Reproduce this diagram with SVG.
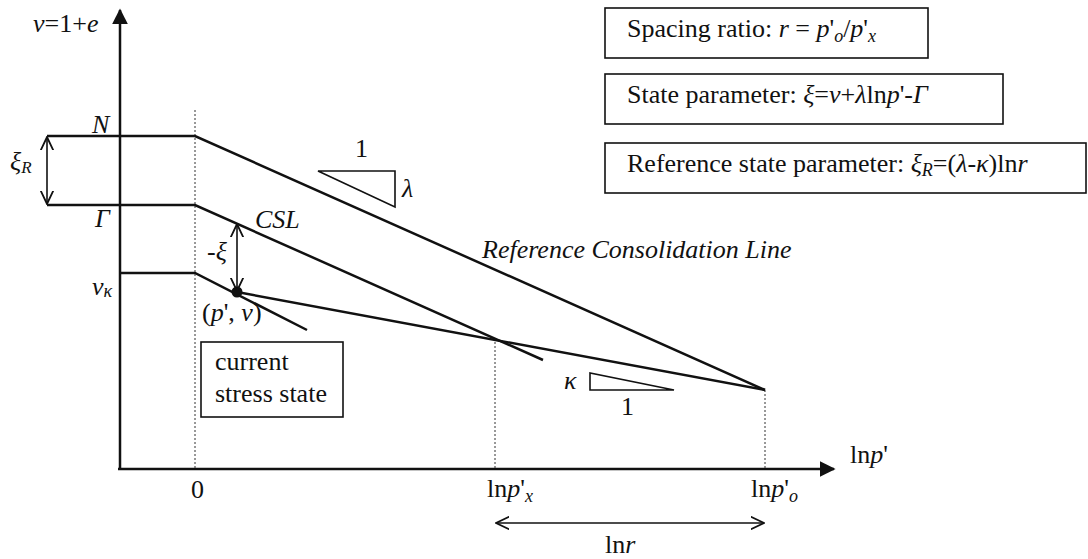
<svg xmlns="http://www.w3.org/2000/svg" width="1088" height="559" viewBox="0 0 1088 559" font-family="'Liberation Serif', Tinos, 'Times New Roman', 'DejaVu Serif', serif">
<defs>
<style>
text{font-family:'Liberation Serif',Tinos,'Times New Roman','DejaVu Serif',serif;font-size:26px;fill:#111}
.i{font-style:italic}
.s{font-size:18px}
.ln{stroke:#111;stroke-width:2.5;fill:none}
.thin{stroke:#111;stroke-width:1.6;fill:none}
.dot{stroke:#333;stroke-width:1;stroke-dasharray:2 2;fill:none}
.box{stroke:#111;stroke-width:1.6;fill:#fff}
</style>
<marker id="tri" viewBox="0 0 10 10" refX="9" refY="5" markerWidth="16" markerHeight="16" markerUnits="userSpaceOnUse" orient="auto"><path d="M0,0 L10,5 L0,10 Z" fill="#111"/></marker>
<marker id="open" viewBox="0 0 10 10" refX="9.5" refY="5" markerWidth="14" markerHeight="14" markerUnits="userSpaceOnUse" orient="auto-start-reverse"><path d="M0,0.5 L9.5,5 L0,9.5" fill="none" stroke="#111" stroke-width="1.3"/></marker>
</defs>
<rect width="1088" height="559" fill="#fff"/>
<g id="connectors">
<line class="ln" x1="120" y1="470" x2="120" y2="10" marker-end="url(#tri)"/>
<line class="ln" x1="118" y1="469" x2="834" y2="469" marker-end="url(#tri)"/>
<line class="dot" x1="195" y1="110" x2="195" y2="468"/>
<line class="dot" x1="495" y1="338" x2="495" y2="468"/>
<line class="dot" x1="765" y1="390" x2="765" y2="468"/>
<polyline class="ln" points="47,136 195,136 765,390"/>
<polyline class="ln" points="47,205 195,205 543,360"/>
<polyline class="ln" points="120,273 195,273 307,330"/>
<line class="ln" x1="237" y1="292" x2="765" y2="390"/>
<circle cx="237" cy="292" r="5.5" fill="#111"/>
<line class="thin" x1="47" y1="137" x2="47" y2="204" marker-start="url(#open)" marker-end="url(#open)"/>
<line class="thin" x1="237" y1="224" x2="237" y2="291" marker-start="url(#open)" marker-end="url(#open)"/>
<line class="thin" x1="496" y1="523" x2="764" y2="523" marker-start="url(#open)" marker-end="url(#open)"/>
<polygon class="thin" points="318,171 395,171 395,207"/>
<polygon class="thin" points="590,373 590,390 674,390"/>
</g>
<g id="labels">
<text x="33" y="32" font-size="28"><tspan class="i">ν</tspan>=1+<tspan class="i">e</tspan></text>
<text class="i" x="92" y="133" font-size="24">N</text>
<text class="i" x="95" y="227" font-size="24">Γ</text>
<text class="i" x="10" y="170" font-size="24">ξ<tspan font-size="17" dy="3">R</tspan></text>
<text class="i" x="92" y="295" font-size="24">ν<tspan font-size="18" dy="2">κ</tspan></text>
<text class="i" x="255" y="228" font-size="25">CSL</text>
<text x="207" y="260" font-size="22">-<tspan class="i">ξ</tspan></text>
<text x="202" y="321" font-size="20">(<tspan class="i">p</tspan>', <tspan class="i">ν</tspan>)</text>
<text x="355" y="157" font-size="20">1</text>
<text class="i" x="402" y="197" font-size="22">λ</text>
<text class="i" x="564" y="389" font-size="22">κ</text>
<text x="621" y="415" font-size="20">1</text>
<text class="i" x="482" y="258" font-size="27">Reference Consolidation Line</text>
<text x="191" y="498">0</text>
<text x="850" y="463">ln<tspan class="i">p</tspan>'</text>
<text x="487" y="497">ln<tspan class="i">p</tspan>'<tspan class="i s" dy="5">x</tspan></text>
<text x="751" y="497">ln<tspan class="i">p</tspan>'<tspan class="i s" dy="5">o</tspan></text>
<text x="605" y="553">ln<tspan class="i">r</tspan></text>
</g>
<g id="current-state">
<rect class="box" x="201" y="342" width="142" height="75"/>
<text x="215" y="370">current</text>
<text x="215" y="402">stress state</text>
</g>
<g id="box-spacing">
<rect class="box" x="605" y="8" width="323" height="50"/>
<text x="627" y="37">Spacing ratio: <tspan class="i">r</tspan> = <tspan class="i">p</tspan>'<tspan class="i s" dy="5">o</tspan><tspan dy="-5">/</tspan><tspan class="i">p</tspan>'<tspan class="i s" dy="5">x</tspan></text>
</g>
<g id="box-state">
<rect class="box" x="605" y="74" width="398" height="50"/>
<text x="627" y="103">State parameter: <tspan class="i">ξ</tspan>=<tspan class="i">ν</tspan>+<tspan class="i">λ</tspan>ln<tspan class="i">p</tspan>'-<tspan class="i">Γ</tspan></text>
</g>
<g id="box-ref">
<rect class="box" x="605" y="143" width="481" height="50"/>
<text x="627" y="172">Reference state parameter: <tspan class="i">ξ</tspan><tspan class="i s" dy="4">R</tspan><tspan dy="-4">=(</tspan><tspan class="i">λ</tspan>-<tspan class="i">κ</tspan>)ln<tspan class="i">r</tspan></text>
</g>
</svg>
